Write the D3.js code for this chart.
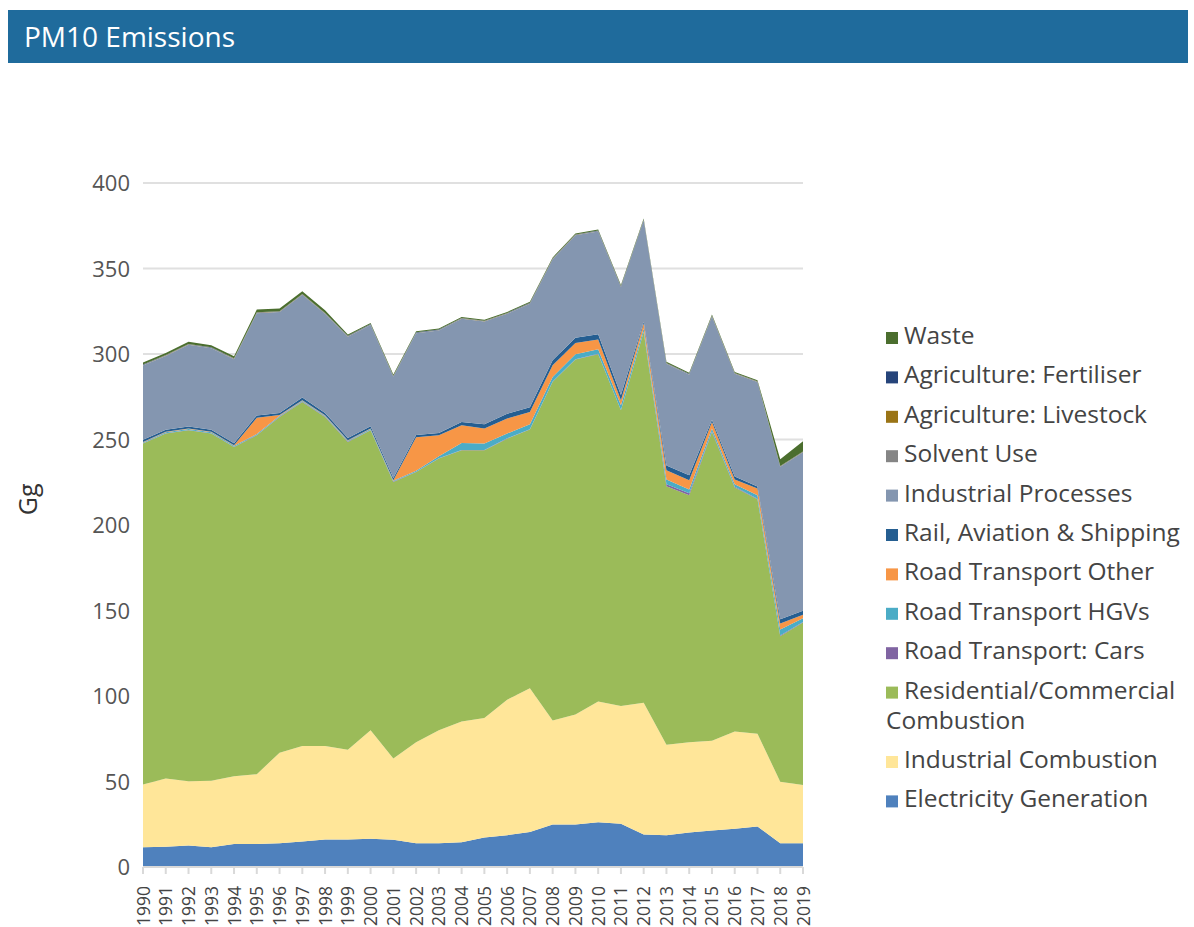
<html>
<head>
<style>
  body { margin: 0; background: #fff; font-family: "Open Sans", Lato, sans-serif; }
</style>
</head>
<body>
<svg id="chart" width="1194" height="927"></svg>
<script src="https://d3js.org/d3.v7.min.js"></script>
<script>
const years = d3.range(1990, 2020)

// stack order, bottom to top
const electricity = [11.6, 11.8, 12.6, 11.6, 13.4, 13.4, 13.9, 14.9, 16.1, 16.1, 16.5, 15.9, 13.9, 13.9, 14.5, 17.3, 18.6, 20.4, 24.9, 24.9, 26.2, 25.3, 19.0, 18.6, 20.2, 21.4, 22.3, 23.7, 13.9, 13.9]
const indCombustion = [36.7, 40.0, 37.6, 38.8, 39.7, 40.9, 52.9, 55.8, 54.6, 52.5, 63.4, 47.6, 59.1, 66.0, 70.6, 69.8, 79.2, 84.2, 60.8, 64.3, 70.6, 68.8, 77.1, 52.9, 52.8, 52.4, 57.0, 54.2, 36.0, 34.0]
const residential = [199.3, 201.7, 205.2, 203.1, 192.5, 198.2, 196.4, 201.3, 192.5, 180.0, 175.5, 161.7, 158.0, 159.0, 158.6, 156.6, 152.7, 151.2, 198.0, 207.6, 203.1, 173.0, 216.8, 151.1, 144.4, 180.6, 142.6, 137.1, 85.1, 95.1]
const cars = [0.2, 0.2, 0.2, 0.2, 0.2, 0.2, 0.2, 0.2, 0.2, 0.2, 0.2, 0.2, 0.2, 0.2, 0.2, 0.2, 0.2, 0.2, 0.2, 0.2, 0.2, 0.2, 0.2, 1.2, 1.2, 0.4, 0.4, 0.4, 0.4, 0.3]
const hgvs = [0.5, 0.5, 0.5, 0.5, 0.5, 0.5, 0.5, 0.5, 0.5, 0.5, 0.5, 0.5, 0.5, 1.1, 4.1, 3.7, 2.8, 2.9, 2.7, 2.9, 2.7, 2.7, 1.8, 2.8, 2.1, 1.6, 1.5, 2.0, 3.5, 2.2]
const roadOther = [0.3, 0.3, 0.3, 0.3, 0.3, 9.5, 0.5, 0.3, 0.3, 0.3, 0.3, 0.3, 19.6, 12.3, 10.3, 8.8, 8.8, 7.2, 6.8, 6.6, 5.7, 3.0, 2.9, 5.4, 5.5, 3.9, 2.8, 3.9, 3.5, 2.0]
const rail = [1.2, 1.2, 1.2, 1.2, 1.2, 1.4, 1.1, 1.5, 1.3, 1.3, 1.3, 1.3, 1.4, 1.3, 2.0, 2.5, 2.7, 2.8, 2.9, 3.0, 3.0, 3.0, 1.0, 2.8, 2.9, 1.2, 1.8, 1.2, 2.5, 2.4]
const indProcesses = [43.5, 43.2, 47.8, 47.7, 49.2, 59.8, 59.0, 60.1, 58.0, 59.2, 59.3, 59.3, 59.5, 60.0, 60.3, 60.1, 58.5, 60.5, 59.1, 59.9, 60.2, 63.2, 59.4, 59.5, 58.8, 60.5, 60.0, 61.1, 89.1, 92.6]
const solvent = [0.2, 0.2, 0.2, 0.2, 0.2, 0.2, 0.2, 0.2, 0.2, 0.2, 0.2, 0.2, 0.2, 0.2, 0.2, 0.2, 0.2, 0.2, 0.2, 0.2, 0.2, 0.2, 0.2, 0.2, 0.2, 0.2, 0.2, 0.2, 0.2, 0.2]
const livestock = [0.1, 0.1, 0.1, 0.1, 0.1, 0.1, 0.1, 0.1, 0.1, 0.1, 0.1, 0.1, 0.1, 0.1, 0.1, 0.1, 0.1, 0.1, 0.1, 0.1, 0.1, 0.1, 0.1, 0.1, 0.1, 0.1, 0.1, 0.1, 0.1, 0.1]
const fertiliser = [0.2, 0.2, 0.2, 0.2, 0.2, 0.2, 0.2, 0.2, 0.2, 0.2, 0.2, 0.2, 0.2, 0.2, 0.2, 0.2, 0.2, 0.2, 0.2, 0.2, 0.2, 0.2, 0.2, 0.2, 0.2, 0.2, 0.2, 0.2, 0.2, 0.2]
const waste = [1.2, 1.2, 1.2, 1.2, 1.2, 1.6, 1.6, 1.6, 1.6, 0.8, 0.7, 0.7, 0.6, 0.6, 0.6, 0.6, 0.6, 0.6, 0.6, 0.6, 0.6, 0.6, 0.6, 0.6, 0.6, 0.6, 0.6, 0.6, 4.0, 6.0]

const series = [
    {name: "Electricity Generation", values: electricity, color: "#4f81bd"},
    {name: "Industrial Combustion", values: indCombustion, color: "#ffe699"},
    {name: "Residential/Commercial Combustion", values: residential, color: "#9bbb59"},
    {name: "Road Transport: Cars", values: cars, color: "#8064a2"},
    {name: "Road Transport HGVs", values: hgvs, color: "#4bacc6"},
    {name: "Road Transport Other", values: roadOther, color: "#f79646"},
    {name: "Rail, Aviation & Shipping", values: rail, color: "#255e91"},
    {name: "Industrial Processes", values: indProcesses, color: "#8496b0"},
    {name: "Solvent Use", values: solvent, color: "#858585"},
    {name: "Agriculture: Livestock", values: livestock, color: "#9a7416"},
    {name: "Agriculture: Fertiliser", values: fertiliser, color: "#26447a"},
    {name: "Waste", values: waste, color: "#4b6e2e"}
]
const yTicks = [0, 50, 100, 150, 200, 250, 300, 350, 400]

let svg = d3.select("#chart")

// header bar
svg.append("rect").attr("x", 8).attr("y", 10).attr("width", 1180).attr("height", 53).attr("fill", "#1f6b9c")
svg.append("text").attr("x", 24).attr("y", 47)
    .attr("fill", "#fff").attr("font-size", 28).text("PM10 Emissions")

let x = d3.scaleLinear().domain([1990, 2019]).range([143, 803])
let y = d3.scaleLinear().domain([0, 400]).range([867, 183])

// grid lines + y labels
let grid = svg.append("g")
grid.selectAll("line").data(yTicks.filter(d => d > 0)).enter().append("line")
    .attr("x1", 143).attr("x2", 803)
    .attr("y1", d => y(d)).attr("y2", d => y(d))
    .attr("stroke", "#e0e0e0").attr("stroke-width", 2)
grid.selectAll("text").data(yTicks).enter().append("text")
    .attr("x", 130).attr("y", d => y(d) + 8)
    .attr("text-anchor", "end").attr("font-size", 22).attr("fill", "#555")
    .text(d => d)

svg.append("text").attr("transform", "translate(37," + y(215) + ") rotate(-90)")
    .attr("text-anchor", "middle").attr("font-size", 25).attr("fill", "#333").text("Gg")

// stacked areas
let table = years.map((yr, i) => {
    let row = {year: yr}
    series.forEach(s => row[s.name] = s.values[i])
    return row
})
let stack = d3.stack().keys(series.map(s => s.name))
let layers = stack(table)
let area = d3.area()
    .x(d => x(d.data.year))
    .y0(d => y(d[0]))
    .y1(d => y(d[1]))
svg.append("g").selectAll("path").data(layers).enter().append("path")
    .attr("d", area)
    .attr("fill", (d, i) => series[i].color)

// x axis
let xAxis = svg.append("g").attr("transform", "translate(0,867)")
xAxis.append("line").attr("x1", 143).attr("x2", 803).attr("stroke", "#d9d9d9").attr("stroke-width", 2)
xAxis.selectAll(".tick").data(years).enter().append("line")
    .attr("x1", d => x(d)).attr("x2", d => x(d)).attr("y1", 0).attr("y2", 7)
    .attr("stroke", "#d9d9d9").attr("stroke-width", 2)
xAxis.selectAll("text").data(years).enter().append("text")
    .attr("transform", d => "translate(" + (x(d) + 6.5) + ",19) rotate(-90)")
    .attr("text-anchor", "end").attr("font-size", 17.5).attr("fill", "#444")
    .text(d => d)

// legend
let legendRows = [
    {name: "Waste", lines: ["Waste"]},
    {name: "Agriculture: Fertiliser", lines: ["Agriculture: Fertiliser"]},
    {name: "Agriculture: Livestock", lines: ["Agriculture: Livestock"]},
    {name: "Solvent Use", lines: ["Solvent Use"]},
    {name: "Industrial Processes", lines: ["Industrial Processes"]},
    {name: "Rail, Aviation & Shipping", lines: ["Rail, Aviation & Shipping"]},
    {name: "Road Transport Other", lines: ["Road Transport Other"]},
    {name: "Road Transport HGVs", lines: ["Road Transport HGVs"]},
    {name: "Road Transport: Cars", lines: ["Road Transport: Cars"]},
    {name: "Residential/Commercial Combustion", lines: ["Residential/Commercial", "Combustion"]},
    {name: "Industrial Combustion", lines: ["Industrial Combustion"]},
    {name: "Electricity Generation", lines: ["Electricity Generation"]}
]
let legend = svg.append("g")
let ly = 336
legendRows.forEach(r => {
    let s = series.find(d => d.name == r.name)
    legend.append("rect").attr("x", 886).attr("y", ly - 4).attr("width", 12).attr("height", 12).attr("fill", s.color)
    r.lines.forEach((t, j) => {
        legend.append("text").attr("x", j == 0 ? 904 : 886).attr("y", ly + 8 + j * 30)
            .attr("font-size", 24.5).attr("fill", "#444").text(t)
    })
    ly += 39.4 + (r.lines.length - 1) * 30
})
</script>
</body>
</html>
